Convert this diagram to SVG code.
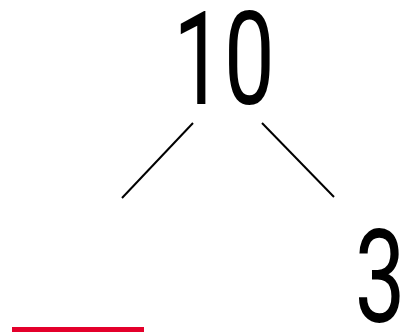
<svg xmlns="http://www.w3.org/2000/svg" width="410" height="336" viewBox="0 0 410 336">
<style>
.num{font-family:Roboto,"Liberation Sans",sans-serif;font-size:129px;fill:#000;text-anchor:middle}
.conn{stroke:#000;stroke-width:2;fill:none}
</style>
<rect width="410" height="336" fill="#fff"/>
<g id="node-top"><text class="num" transform="translate(224,104) scale(0.7,1)">10</text></g>
<g id="node-right"><text class="num" transform="translate(380,322) scale(0.7,1)">3</text></g>
<g id="node-left"><rect x="12" y="327" width="132" height="5" fill="#e4002b"/></g>
<g id="connectors">
<line class="conn" x1="193" y1="123" x2="122" y2="198"/>
<line class="conn" x1="262" y1="123" x2="334" y2="197"/>
</g>
</svg>
